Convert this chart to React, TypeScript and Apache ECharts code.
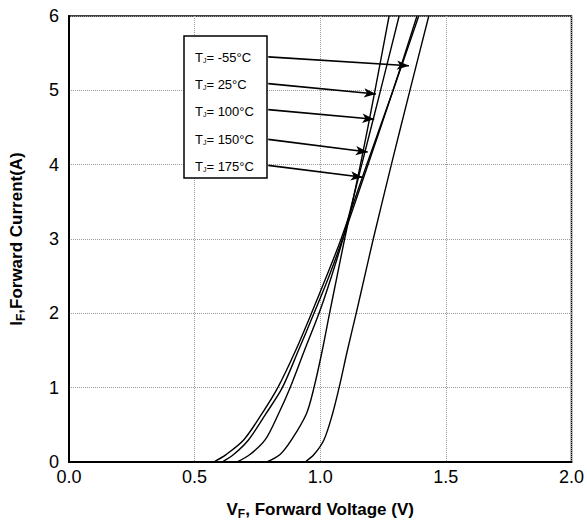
import React, { useEffect, useRef } from "react";
import * as echarts from "echarts";

// Forward current points (A), shared by all curves
const current = [0, 0.1, 0.3, 0.65, 1, 1.5, 2, 2.5, 3, 4, 5, 6];
// Forward voltage (V) per junction temperature
const vM55 = [0.94, 0.975, 1.015, 1.049, 1.075, 1.108, 1.143, 1.177, 1.211, 1.283, 1.357, 1.432];
const v25 = [0.787, 0.84, 0.886, 0.945, 0.975, 1.008, 1.037, 1.067, 1.097, 1.16, 1.218, 1.274];
const v100 = [0.669, 0.72, 0.781, 0.834, 0.88, 0.937, 0.995, 1.045, 1.09, 1.165, 1.24, 1.314];
const v150 = [0.61, 0.655, 0.715, 0.784, 0.849, 0.913, 0.975, 1.035, 1.089, 1.19, 1.29, 1.385];
const v175 = [0.576, 0.625, 0.696, 0.768, 0.831, 0.902, 0.965, 1.025, 1.083, 1.185, 1.29, 1.392];

const labels = ["-55°C", "25°C", "100°C", "150°C", "175°C"];
// annotation arrows in data units: [fromV, fromI, toV, toI]
const arrows = [
  [0.793, 5.45, 1.353, 5.33],
  [0.793, 5.09, 1.222, 4.95],
  [0.793, 4.74, 1.215, 4.61],
  [0.793, 4.34, 1.189, 4.17],
  [0.793, 3.99, 1.169, 3.83],
];

const xTicks = [0, 0.5, 1.0, 1.5, 2.0];
const yTicks = [0, 1, 2, 3, 4, 5, 6];

export default function App() {
  const ref = useRef<HTMLDivElement>(null);
  useEffect(() => {
    if (!ref.current) return;
    const chart = echarts.init(ref.current, null, { renderer: "svg" });
    const all = [vM55, v25, v100, v150, v175];
    const series: any[] = all.map((vs) => ({
      type: "line",
      data: vs.map((v, i) => [v, current[i]]),
      smooth: 0.3,
      showSymbol: false,
      lineStyle: { color: "#000", width: 1.4 },
      z: 3,
    }));
    series.push({
      type: "line",
      data: [],
      markLine: {
        silent: true,
        symbol: ["none", "arrow"],
        symbolSize: [7, 12],
        label: { show: false },
        lineStyle: { color: "#000", width: 1.6, type: "solid" },
        data: arrows.map((a) => [{ coord: [a[0], a[1]] }, { coord: [a[2], a[3]] }]),
      },
      z: 5,
    });
    const font = "'Liberation Sans', Arial, sans-serif";
    const rowY = [57, 84, 111, 139, 166];
    chart.setOption({
      animation: false,
      backgroundColor: "#fff",
      grid: { left: 67, right: 13, top: 16, bottom: 63, show: true, borderColor: "#000", borderWidth: 1.5 },
      xAxis: {
        type: "value",
        min: 0,
        max: 2,
        interval: 0.5,
        axisLine: { show: true, lineStyle: { color: "#000", width: 2 } },
        axisTick: { show: false },
        splitLine: { show: true, lineStyle: { color: "#9a9a9a", type: "dotted", width: 1 } },
        axisLabel: {
          color: "#000",
          fontSize: 18,
          fontFamily: font,
          margin: 6,
          formatter: (v: number) => (xTicks.indexOf(v) >= 0 ? v.toFixed(1) : ""),
        },
        name: "{b|V}{s|F}{b|, Forward Voltage (V)}",
        nameLocation: "middle",
        nameGap: 37,
        nameTextStyle: {
          rich: {
            b: { fontSize: 17, fontWeight: "bold", fontFamily: font, color: "#000" },
            s: { fontSize: 12, fontWeight: "bold", fontFamily: font, color: "#000", padding: [9, 0, 0, 0] },
          },
        },
      },
      yAxis: {
        type: "value",
        min: 0,
        max: 6,
        interval: 1,
        axisLine: { show: true, lineStyle: { color: "#000", width: 2 } },
        axisTick: { show: false },
        splitLine: { show: true, lineStyle: { color: "#9a9a9a", type: "dotted", width: 1 } },
        axisLabel: {
          color: "#000",
          fontSize: 18,
          fontFamily: font,
          margin: 10,
          formatter: (v: number) => (yTicks.indexOf(v) >= 0 ? String(v) : ""),
        },
        name: "{b|I}{s|F}{b|,Forward Current(A)}",
        nameLocation: "middle",
        nameGap: 42,
        nameRotate: 90,
        nameTextStyle: {
          rich: {
            b: { fontSize: 17, fontWeight: "bold", fontFamily: font, color: "#000" },
            s: { fontSize: 12, fontWeight: "bold", fontFamily: font, color: "#000", padding: [9, 0, 0, 0] },
          },
        },
      },
      graphic: [
        {
          type: "rect",
          shape: { x: 184, y: 36, width: 83, height: 142 },
          style: { fill: "#fff", stroke: "#000", lineWidth: 1.5 },
          z: 4,
        },
        ...labels.map((l, i) => ({
          type: "text",
          x: 195,
          y: rowY[i],
          z: 6,
          style: {
            text: "{a|T}{s|J}{a|= " + l + "}",
            verticalAlign: "middle",
            rich: {
              a: { fontSize: 13, fontFamily: font, fill: "#000", color: "#000" },
              s: { fontSize: 7, fontFamily: font, fill: "#000", color: "#000", padding: [6, 0, 0, 0] },
            },
          },
        })),
      ],
      series,
    });
    return () => chart.dispose();
  }, []);
  return (
    <div
      ref={ref}
      style={{ position: "absolute", left: 0, top: 0, width: 587, height: 525 }}
    />
  );
}
